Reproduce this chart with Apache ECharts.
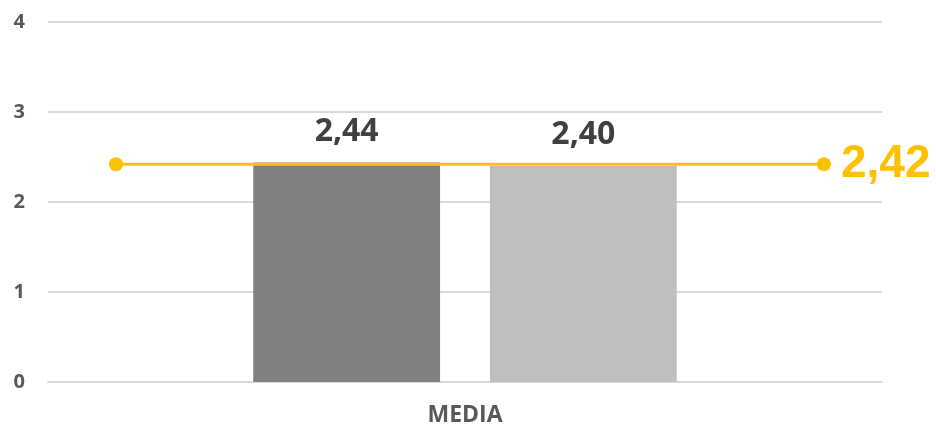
<!DOCTYPE html>
<html>
<head>
<meta charset="utf-8">
<script src="https://cdn.jsdelivr.net/npm/echarts@6/dist/echarts.min.js"></script>
<style>html,body{margin:0;padding:0;background:#fff}#c{width:936px;height:429px}</style>
</head>
<body>
<div id="c"></div>
<script>
var categories = ['MEDIA'];
var seriesA = [2.44];
var seriesB = [2.40];
var averageValue = 2.42;
var yTicks = [0, 1, 2, 3, 4];

var lineData = [[0, averageValue], [1, averageValue]];
function fmt(v) { return v.toFixed(2).replace('.', ','); }

var chart = echarts.init(document.getElementById('c'), null, {renderer: 'canvas'});
chart.setOption({
  animation: false,
  grid: {left: 48, right: 54, top: 22, bottom: 47},
  xAxis: [{
    type: 'category', data: categories,
    axisLine: {show: true, lineStyle: {color: '#D9D9D9', width: 2}},
    axisTick: {show: false},
    axisLabel: {color: '#595959', fontSize: 23, fontWeight: 'bold', fontFamily: 'Open Sans', margin: 22}
  }, {
    type: 'value', show: false,
    min: function (e) { return e.min - 0.096; },
    max: function (e) { return e.max + 0.082; },
    splitLine: {show: false}
  }],
  yAxis: {
    type: 'value', min: yTicks[0], max: yTicks[yTicks.length - 1], interval: 1,
    axisLine: {show: false}, axisTick: {show: false},
    splitLine: {lineStyle: {color: '#D9D9D9', width: 2}},
    axisLabel: {color: '#595959', fontSize: 20, fontWeight: 'bold', fontFamily: 'Open Sans', margin: 23, formatter: function (v) { return String(v); }}
  },
  series: [{
    type: 'bar', data: seriesA, barWidth: '22.4%', barGap: '26.7%',
    itemStyle: {color: '#808080'},
    label: {show: true, position: 'top', distance: 15, color: '#404040', fontSize: 32, fontWeight: 'bold', fontFamily: 'Open Sans', formatter: function (p) { return fmt(p.value); }}
  }, {
    type: 'bar', data: seriesB, barWidth: '22.4%', barGap: '26.7%',
    itemStyle: {color: '#BFBFBF'},
    label: {show: true, position: 'top', distance: 15, color: '#404040', fontSize: 32, fontWeight: 'bold', fontFamily: 'Open Sans', formatter: function (p) { return fmt(p.value); }}
  }, {
    type: 'line', xAxisIndex: 1, data: lineData, z: 5,
    symbol: 'circle', symbolSize: 14,
    lineStyle: {color: '#FFC000', width: 3},
    itemStyle: {color: '#FFC000'},
    label: {show: true, position: 'right', distance: 10, color: '#FFC000', fontSize: 46, fontWeight: 'bold', fontFamily: 'Liberation Sans',
      formatter: function (p) { return p.dataIndex === lineData.length - 1 ? fmt(p.value[1]) : ''; }}
  }]
});
</script>
</body>
</html>
